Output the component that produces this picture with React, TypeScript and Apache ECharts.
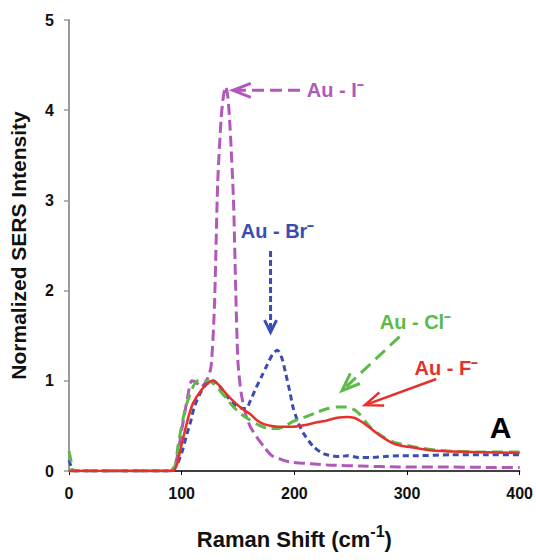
import React, { useEffect, useRef } from "react";
import * as echarts from "echarts";

const xTicks = [0, 100, 200, 300, 400];
const yTicks = [0, 1, 2, 3, 4, 5];

const seriesNames = ["Au - I⁻", "Au - Br⁻", "Au - Cl⁻", "Au - F⁻"];

const iodide: number[][] = [
  [0, 0], [20, 0], [50, 0], [80, 0], [90, 0], [95, 0.1], [100, 0.45], [105, 0.8], [109, 1.0],
  [113, 0.98], [117, 0.93], [122, 1.0], [126, 1.15], [129, 1.8], [132, 3.2], [135, 3.9],
  [137, 4.15], [139, 4.26], [141, 4.15], [143, 3.8], [146, 3.0], [148, 2.0], [150, 1.2],
  [153, 0.85], [157, 0.62], [161, 0.49], [167, 0.37], [173, 0.27], [180, 0.17], [188, 0.13],
  [196, 0.1], [215, 0.08], [232, 0.065], [260, 0.055], [293, 0.045], [330, 0.045], [370, 0.04], [400, 0.04],
];

const bromide: number[][] = [
  [0, 0.12], [2, 0.05], [5, 0], [50, 0], [90, 0], [95, 0.05], [100, 0.2], [104, 0.38], [108, 0.55],
  [111, 0.7], [116, 0.85], [121, 0.95], [128, 1.0], [134, 0.93], [140, 0.83], [146, 0.75],
  [152, 0.7], [157, 0.69], [161, 0.78], [166, 0.92], [171, 1.05], [176, 1.18], [181, 1.3],
  [185, 1.34], [189, 1.25], [192, 1.1], [196, 0.88], [199, 0.7], [204, 0.52], [208, 0.42],
  [213, 0.33], [217, 0.27], [223, 0.21], [229, 0.18], [240, 0.16], [247, 0.17], [257, 0.15],
  [267, 0.15], [280, 0.16], [293, 0.17], [310, 0.17], [340, 0.18], [370, 0.18], [400, 0.18],
];

const chloride: number[][] = [
  [0, 0.22], [2, 0.1], [4, 0], [50, 0], [90, 0], [94, 0.05], [97, 0.3], [100, 0.5], [103, 0.68],
  [106, 0.8], [110, 0.93], [114, 1.0], [120, 1.0], [126, 0.99], [132, 0.92], [140, 0.8],
  [146, 0.71], [153, 0.63], [160, 0.57], [170, 0.5], [178, 0.47], [185, 0.47], [192, 0.5],
  [199, 0.55], [210, 0.6], [220, 0.65], [229, 0.69], [238, 0.71], [247, 0.71], [253, 0.68],
  [258, 0.63], [263, 0.55], [268, 0.48], [274, 0.42], [280, 0.37], [288, 0.32], [298, 0.29],
  [310, 0.26], [320, 0.24], [340, 0.22], [370, 0.21], [400, 0.21],
];

const fluoride: number[][] = [
  [0, 0], [50, 0], [92, 0], [96, 0.08], [100, 0.3], [103, 0.45], [106, 0.6], [110, 0.75],
  [117, 0.89], [123, 0.97], [128, 1.0], [134, 0.94], [140, 0.85], [148, 0.75], [155, 0.68],
  [161, 0.63], [167, 0.56], [173, 0.52], [180, 0.5], [190, 0.49], [199, 0.49], [210, 0.51],
  [220, 0.54], [229, 0.56], [238, 0.59], [247, 0.6], [253, 0.59], [258, 0.56], [265, 0.5],
  [273, 0.42], [280, 0.36], [287, 0.31], [295, 0.28], [305, 0.26], [320, 0.23], [335, 0.22],
  [360, 0.21], [400, 0.2],
];

// annotation anchors in data coordinates: [tailX, tailY, headX, headY, labelX, labelY]
const arrowTails: number[][] = [[205, 4.22], [178.9, 2.44], [293.4, 1.49], [326, 1.02]];
const arrowHeads: number[][] = [[145.4, 4.22], [178.9, 1.54], [242.3, 0.89], [262.6, 0.73]];
const labelAnchors: number[][] = [[211, 4.22], [152.4, 2.66], [307.5, 1.65], [335, 1.14]];
const panelLabel = "A";
const panelAnchor = [383, 0.48];

const colors = ["#b158bb", "#3a4db3", "#5cba48", "#e8302a"];
const dashes: (number[] | null)[] = [[11, 5], [6, 4], [11, 6], null];
const arrowDashes: (number[] | null)[] = [[12, 6], [6, 3], [13, 7], null];

export default function App() {
  const ref = useRef<HTMLDivElement>(null);
  useEffect(() => {
    if (!ref.current) return;
    const chart = echarts.init(ref.current, undefined, { renderer: "svg" });
    const font = "Liberation Sans, Arial, Helvetica, sans-serif";
    const datasets = [iodide, bromide, chloride, fluoride];
    chart.setOption({
      animation: false,
      backgroundColor: "#ffffff",
      grid: { left: 67, right: 13, top: 20, bottom: 78, containLabel: false },
      xAxis: {
        type: "value",
        min: 0,
        max: 400,
        interval: 100,
        name: "Raman Shift (cm{sup|-1})",
        nameLocation: "middle",
        nameGap: 52,
        nameTextStyle: {
          color: "#111",
          fontFamily: font,
          fontWeight: "bold",
          fontSize: 22,
          lineHeight: 32,
          rich: {
            sup: { fontSize: 16, fontWeight: "bold", fontFamily: font, color: "#111", lineHeight: 16, verticalAlign: "top" },
          },
        },
        axisLine: { show: true, onZero: false, lineStyle: { color: "#000", width: 1.5 } },
        axisTick: { show: true, length: 4, lineStyle: { color: "#000" } },
        splitLine: { show: false },
        axisLabel: {
          margin: 14,
          color: "#111",
          fontFamily: font,
          fontWeight: "bold",
          fontSize: 16,
          formatter: (v: number) => (xTicks.includes(v) ? String(v) : ""),
        },
      },
      yAxis: {
        type: "value",
        min: 0,
        max: 5,
        interval: 1,
        name: "Normalized SERS Intensity",
        nameLocation: "middle",
        nameGap: 40,
        nameTextStyle: { color: "#111", fontFamily: font, fontWeight: "bold", fontSize: 21 },
        axisLine: { show: true, onZero: false, lineStyle: { color: "#9a9a9a", width: 2 } },
        axisTick: { show: true, length: 5, lineStyle: { color: "#9a9a9a", width: 1.5 } },
        splitLine: { show: false },
        axisLabel: {
          margin: 15,
          color: "#111",
          fontFamily: font,
          fontWeight: "bold",
          fontSize: 16,
          formatter: (v: number) => (yTicks.includes(v) ? String(v) : ""),
        },
      },
      series: datasets.map((d, i) => ({
        name: seriesNames[i],
        type: "line",
        data: d,
        smooth: 0.25,
        showSymbol: false,
        symbol: "none",
        z: i === 3 ? 5 : 3 + i * 0.1,
        lineStyle: {
          color: colors[i],
          width: i === 3 ? 2.5 : 3,
          type: dashes[i] ? dashes[i] : "solid",
        },
      })),
    });

    const px = (p: number[]) => chart.convertToPixel({ gridIndex: 0 }, p) as number[];
    const elements: any[] = [];
    for (let i = 0; i < 4; i++) {
      const t = px(arrowTails[i]);
      const h = px(arrowHeads[i]);
      const dx = t[0] - h[0];
      const dy = t[1] - h[1];
      const len = Math.hypot(dx, dy);
      const ux = dx / len;
      const uy = dy / len;
      const L = i === 1 ? 12 : 18;
      const W = i === 1 ? 6 : 7;
      const b1 = [h[0] + ux * L - uy * W, h[1] + uy * L + ux * W];
      const b2 = [h[0] + ux * L + uy * W, h[1] + uy * L - ux * W];
      const lw = i === 3 ? 2.5 : 3;
      elements.push({
        type: "line",
        shape: { x1: t[0], y1: t[1], x2: h[0] + ux * 3, y2: h[1] + uy * 3 },
        style: { stroke: colors[i], lineWidth: lw, lineDash: arrowDashes[i] || undefined },
        z: 10,
      });
      elements.push({
        type: "polyline",
        shape: { points: [b1, h, b2] },
        style: { stroke: colors[i], lineWidth: lw, fill: null },
        z: 10,
      });
      const la = px(labelAnchors[i]);
      elements.push({
        type: "text",
        x: la[0],
        y: la[1],
        style: {
          text: seriesNames[i],
          fill: colors[i],
          font: `bold 20px ${font}`,
          textAlign: i >= 2 ? "center" : "left",
          textVerticalAlign: "middle",
        },
        z: 11,
      });
    }
    const pa = px(panelAnchor);
    elements.push({
      type: "text",
      x: pa[0],
      y: pa[1],
      style: {
        text: panelLabel,
        fill: "#000",
        font: `bold 30px ${font}`,
        textAlign: "center",
        textVerticalAlign: "middle",
      },
      z: 11,
    });
    chart.setOption({ graphic: { elements } });

    return () => chart.dispose();
  }, []);
  return (
    <div
      ref={ref}
      style={{ position: "fixed", left: 0, top: 0, width: 536, height: 560, background: "#fff" }}
    />
  );
}
